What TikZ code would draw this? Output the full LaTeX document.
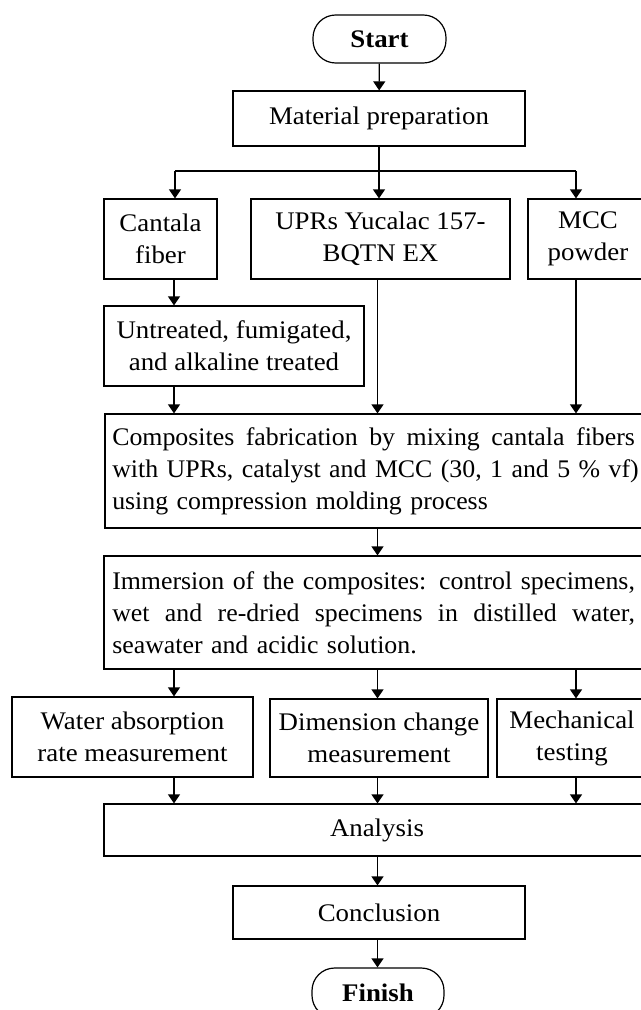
\documentclass[tikz,border=0pt]{standalone}
\usepackage{fontspec}
\setmainfont{Liberation Serif}[FakeStretch=1.06]
\newfontfamily\widefont{Liberation Serif}[FakeStretch=1.02]
\usetikzlibrary{arrows.meta}
\tikzset{
  box/.style={draw, line width=0.9pt, inner sep=0pt, align=center, font=\fontsize{19}{24}\selectfont},
  term/.style={box, rounded corners=17pt, font=\fontsize{19}{24}\selectfont\bfseries},
  widetext/.style={inner sep=0pt, text width=392pt, align=left, anchor=west, font=\widefont\fontsize{19}{24}\selectfont},
  arr/.style={line width=0.9pt, -{Triangle[length=6.75pt,width=9pt]}},
  ln/.style={line width=0.9pt}
}
\newcommand{\jline}[1]{\leavevmode\hbox to 392pt{#1}}
\newcommand{\gp}{\hspace{0pt plus 1fil}}
\begin{document}
\begin{tikzpicture}[x=0.75pt,y=-0.75pt]
\useasboundingbox (0,0) rectangle (640,1010);
\node[term, minimum width=99.75pt, minimum height=36pt] (start) at (379.5,39) {Start};
\node[box, minimum width=219pt, minimum height=41.25pt] (mat) at (379,118.5) {Material preparation};
\node[box, minimum width=84.75pt, minimum height=60pt] (cant) at (160.5,239) {Cantala\\fiber};
\node[box, minimum width=194.25pt, minimum height=60pt] (upr) at (380.5,239) {UPRs Yucalac 157-\\BQTN EX};
\node[box, minimum width=90pt, minimum height=60pt] (mcc) at (588,239) {MCC\\powder};
\node[box, minimum width=195pt, minimum height=60pt] (untr) at (234,346) {Untreated, fumigated,\\and alkaline treated};
\node[box, minimum width=408pt, minimum height=85.5pt] (comp) at (377,471) {};
\node[widetext] (comptext) at (112,471) {\jline{Composites \gp fabrication \gp by \gp mixing \gp cantala \gp fibers}\\\jline{with \gp UPRs, \gp catalyst \gp and \gp MCC \gp (30, \gp 1 \gp and \gp 5 \gp \% \gp vf)}\\using compression molding process};
\node[box, minimum width=409.5pt, minimum height=84.75pt] (imm) at (377,612.5) {};
\node[widetext] (immtext) at (112,612.5) {\jline{Immersion \gp of \gp the \gp composites: \gp control \gp specimens,}\\\jline{wet\gp\ and\gp\ re-dried\gp\ specimens\gp\ in\gp\ distilled\gp\ water,}\\seawater and acidic solution.};
\node[box, minimum width=180.75pt, minimum height=60pt] (water) at (132.5,737) {Water absorption\\rate measurement};
\node[box, minimum width=163.5pt, minimum height=58.5pt] (dim) at (379,738) {Dimension change\\measurement};
\node[box, minimum width=112.5pt, minimum height=58.5pt] (mech) at (572,738) {Mechanical\\testing};
\node[box, minimum width=409.5pt, minimum height=39pt] (ana) at (377,830) {Analysis};
\node[box, minimum width=219pt, minimum height=39.75pt] (conc) at (379,912.5) {Conclusion};
\node[term, minimum width=99pt, minimum height=37.5pt] (fin) at (378,993) {Finish};
% connectors
\draw[arr] (start) -- (mat);
\coordinate (jc) at (379,171);
\coordinate (jl) at (175,171);
\coordinate (jr) at (576,171);
\draw[ln] (mat.south) -- (jc);
\draw[ln] (jl) -- (jr);
\draw[arr] (jl) -- (jl |- cant.north);
\draw[arr] (jc) -- (jc |- upr.north);
\draw[arr] (jr) -- (jr |- mcc.north);
\coordinate (c1) at (174,0);
\coordinate (c2) at (377.5,0);
\coordinate (c3) at (576,0);
\draw[arr] (c1 |- cant.south) -- (c1 |- untr.north);
\draw[arr] (c1 |- untr.south) -- (c1 |- comp.north);
\draw[arr] (c2 |- upr.south) -- (c2 |- comp.north);
\draw[arr] (c3 |- mcc.south) -- (c3 |- comp.north);
\draw[arr] (c2 |- comp.south) -- (c2 |- imm.north);
\draw[arr] (c1 |- imm.south) -- (c1 |- water.north);
\draw[arr] (c2 |- imm.south) -- (c2 |- dim.north);
\draw[arr] (c3 |- imm.south) -- (c3 |- mech.north);
\draw[arr] (c1 |- water.south) -- (c1 |- ana.north);
\draw[arr] (c2 |- dim.south) -- (c2 |- ana.north);
\draw[arr] (c3 |- mech.south) -- (c3 |- ana.north);
\draw[arr] (c2 |- ana.south) -- (c2 |- conc.north);
\draw[arr] (c2 |- conc.south) -- (c2 |- fin.north);
\end{tikzpicture}
\end{document}
